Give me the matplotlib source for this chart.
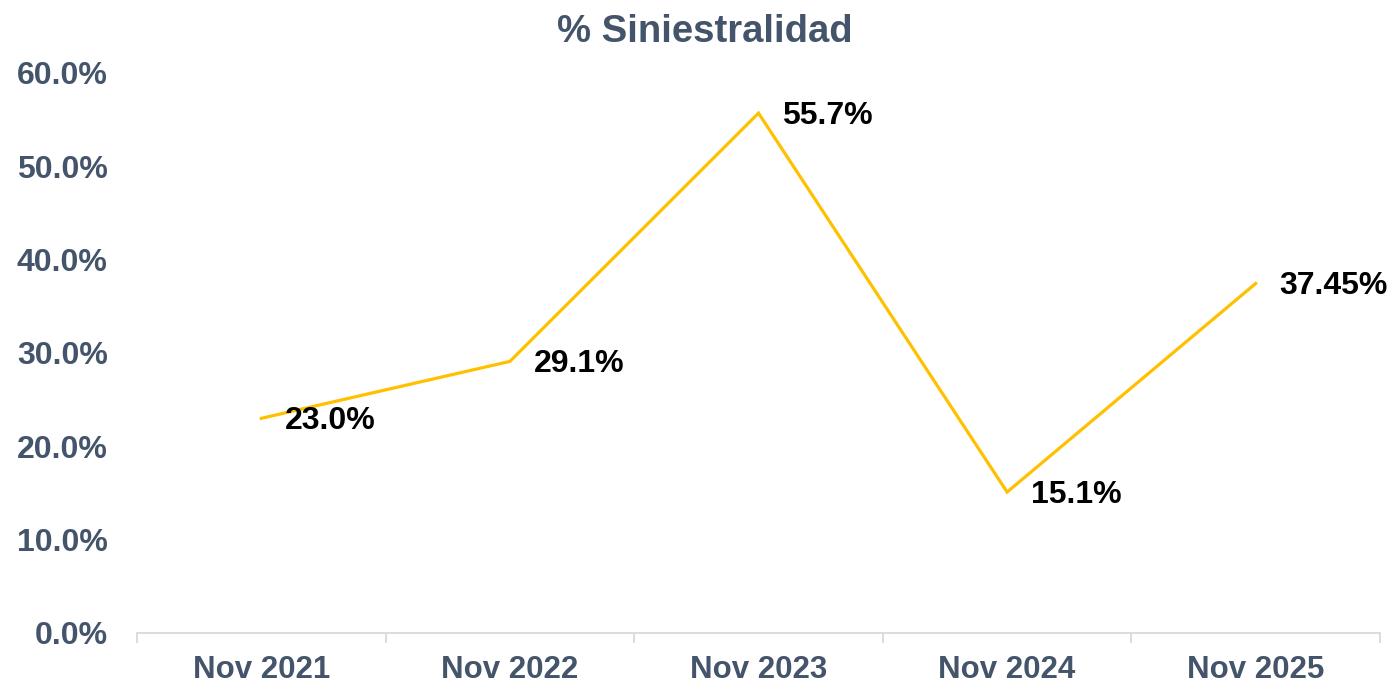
import matplotlib
matplotlib.use("Agg")
import matplotlib.pyplot as plt
from matplotlib.ticker import FuncFormatter, FixedLocator, NullFormatter

categories = ["Nov 2021", "Nov 2022", "Nov 2023", "Nov 2024", "Nov 2025"]
values = [23.0, 29.1, 55.7, 15.1, 37.45]
labels = ["23.0%", "29.1%", "55.7%", "15.1%", "37.45%"]

plt.rcParams['font.family'] = ['Liberation Sans', 'DejaVu Sans']
tick_color = "#44546A"
line_color = "#FFC000"

fig = plt.figure(figsize=(13.92, 6.85), dpi=100)
ax = fig.add_axes([137/1392, (685-633)/685, (1380-137)/1392, (633-73)/685])

x = list(range(len(categories)))
ax.plot(x, values, color=line_color, linewidth=2.3, solid_joinstyle='miter')
for xi, v, lab in zip(x, values, labels):
    ax.annotate(lab, (xi, v), xytext=(17, -2), textcoords='offset points',
                ha='left', va='center', fontsize=23, fontweight='bold', color='black')

ax.set_xlim(-0.5, len(categories) - 0.5)
ax.set_ylim(0, 60)
ax.set_yticks([0, 10, 20, 30, 40, 50, 60])
ax.yaxis.set_major_formatter(FuncFormatter(lambda v, p: f"{v:.1f}%"))
ax.set_xticks(x)
ax.set_xticklabels(categories)
ax.xaxis.set_minor_locator(FixedLocator([i - 0.5 for i in range(len(categories) + 1)]))
ax.xaxis.set_minor_formatter(NullFormatter())

for s in ['top', 'right', 'left']:
    ax.spines[s].set_visible(False)
ax.spines['bottom'].set_color('#D9D9D9')
ax.spines['bottom'].set_linewidth(1.3)

ax.tick_params(axis='y', length=0, pad=21, labelsize=23, labelcolor=tick_color)
ax.tick_params(axis='x', which='major', length=0, pad=16, labelsize=22.5, labelcolor=tick_color)
ax.tick_params(axis='x', which='minor', length=7, width=1.3, color='#D9D9D9')
for t in ax.get_yticklabels() + ax.get_xticklabels():
    t.set_fontweight('bold')

fig.text(704.5/1392, 1 - 32/685, "% Siniestralidad", ha='center', va='center',
         fontsize=27.5, fontweight='bold', color=tick_color)

fig.savefig("out.png", dpi=100)
